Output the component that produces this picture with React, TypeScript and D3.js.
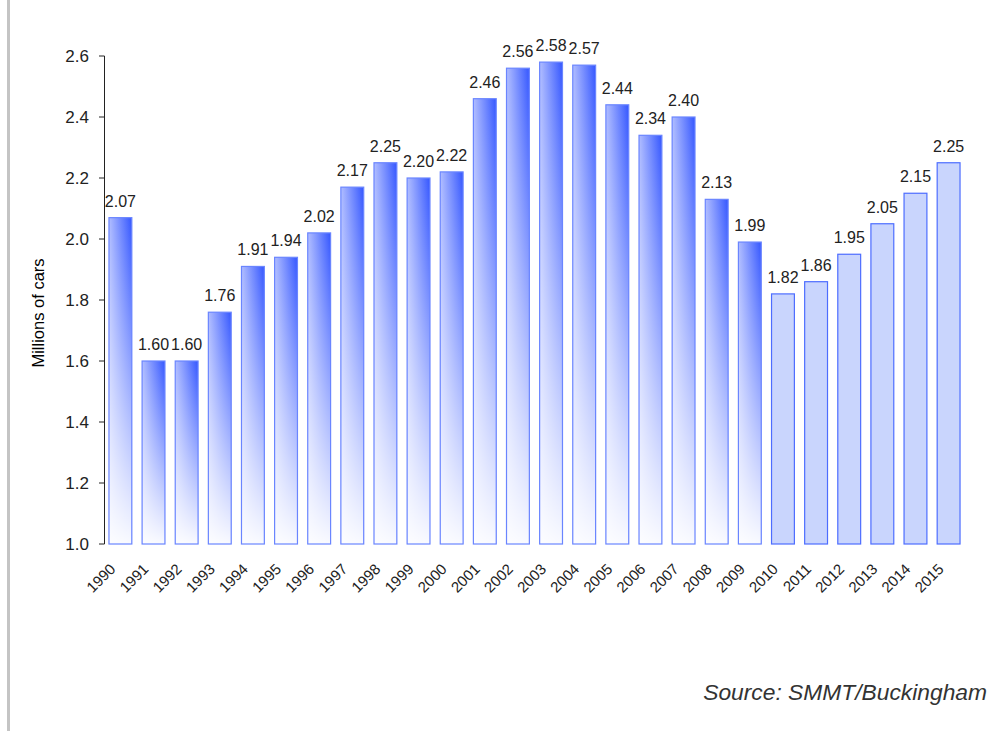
import React from "react";
import * as d3 from "d3";

const years = ["1990","1991","1992","1993","1994","1995","1996","1997","1998","1999","2000","2001","2002","2003","2004","2005","2006","2007","2008","2009","2010","2011","2012","2013","2014","2015"];
const sales = [2.07,1.60,1.60,1.76,1.91,1.94,2.02,2.17,2.25,2.20,2.22,2.46,2.56,2.58,2.57,2.44,2.34,2.40,2.13,1.99,1.82,1.86,1.95,2.05,2.15,2.25];
const forecastFrom = "2010";
const yTicks = [1.0,1.2,1.4,1.6,1.8,2.0,2.2,2.4,2.6];

const W = 988, H = 733;
const FONT = "'Liberation Sans', Arial, Helvetica, sans-serif";

export default function App() {
  const x = d3.scaleBand<string>().domain(years).range([104, 965]).paddingInner(0.31).paddingOuter(0.15);
  const y = d3.scaleLinear().domain([1.0, 2.6]).range([544, 56]);
  const fIdx = years.indexOf(forecastFrom);
  return (
    <svg width={W} height={H} style={{ position: "absolute", left: 0, top: 0, background: "#fff" }}>
      <defs>
        <linearGradient id="hgrad" x1="0" y1="0" x2="1" y2="0">
          <stop offset="0" stopColor="#b0bdff" />
          <stop offset="1" stopColor="#3557ff" />
        </linearGradient>
        <linearGradient id="vfade" x1="0" y1="0" x2="0" y2="1">
          <stop offset="0" stopColor="#ffffff" stopOpacity="0" />
          <stop offset="1" stopColor="#ffffff" stopOpacity="0.97" />
        </linearGradient>
      </defs>
      <rect x={7} y={0} width={3} height={731} fill="#c4c4c4" />
      <line x1={104.5} x2={104.5} y1={y(2.6)} y2={y(1.0)} stroke="#222" strokeWidth={1} />
      {yTicks.map((t) => (
        <g key={t}>
          <line x1={99} x2={104.5} y1={y(t)} y2={y(t)} stroke="#222" strokeWidth={1} />
          <text x={89} y={y(t)} dy="0.36em" textAnchor="end" fontFamily={FONT} fontSize={17} fill="#222">{t.toFixed(1)}</text>
        </g>
      ))}
      <text transform={`translate(44,${(y(1.0) + y(2.6)) / 2 + 13}) rotate(-90)`} textAnchor="middle" fontFamily={FONT} fontSize={16.5} fill="#000">Millions of cars</text>
      {years.map((yr, i) => {
        const bx = x(yr)!;
        const bw = x.bandwidth();
        const top = y(sales[i]);
        const h = y(1.0) - top;
        const fc = i >= fIdx;
        return (
          <g key={yr}>
            {fc ? (
              <rect x={bx} y={top} width={bw} height={h} fill="#c9d5fd" stroke="#4d6dff" strokeWidth={1.2} />
            ) : (
              <>
                <rect x={bx} y={top} width={bw} height={h} fill="url(#hgrad)" />
                <rect x={bx} y={top} width={bw} height={h} fill="url(#vfade)" stroke="#6a85ff" strokeWidth={1.2} />
              </>
            )}
            <text x={bx + bw / 2} y={top - 11} textAnchor="middle" fontFamily={FONT} fontSize={16} fill="#222">{sales[i].toFixed(2)}</text>
            <text transform={`translate(${bx + bw / 2 - 4},${570}) rotate(-45)`} textAnchor="end" fontFamily={FONT} fontSize={15} fill="#222">{yr}</text>
          </g>
        );
      })}
      <text x={987} y={700} textAnchor="end" fontFamily={FONT} fontSize={22.8} fontStyle="italic" fill="#333">Source: SMMT/Buckingham</text>
    </svg>
  );
}
